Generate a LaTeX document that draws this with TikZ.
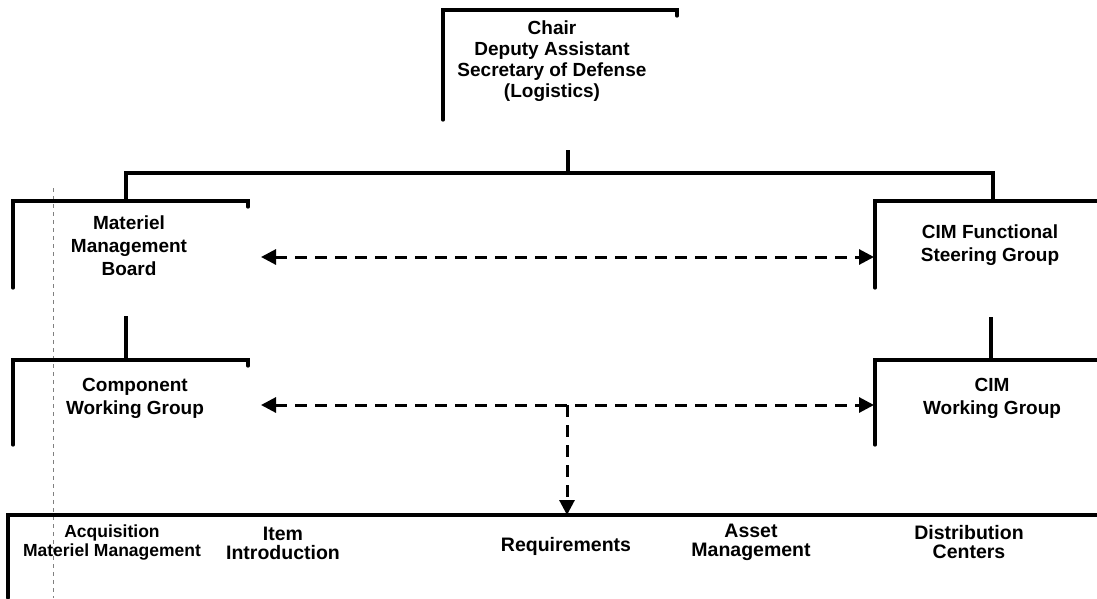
\documentclass[tikz,border=0pt]{standalone}
\usepackage{fontspec}
\setmainfont{Liberation Sans}
\usetikzlibrary{arrows.meta}
\begin{document}
\begin{tikzpicture}[x=1pt,y=-1pt,
  frame/.style={line width=3.2pt, line cap=round, line join=miter},
  conn/.style={line width=3.2pt},
  dashconn/.style={line width=3pt, dash pattern=on 12pt off 8pt},
  tip/.style={-{Triangle[length=15pt,width=15pt]}},
  dtip/.style={{Triangle[length=15pt,width=15pt]}-{Triangle[length=15pt,width=15pt]}},
  lbl/.style={font=\bfseries\fontsize{19}{23}\selectfont, align=center, inner sep=0pt},
  chairlbl/.style={lbl, font=\bfseries\fontsize{19}{21}\selectfont},
  botlbl/.style={lbl, font=\bfseries\fontsize{19.5}{19}\selectfont},
  acqlbl/.style={lbl, font=\bfseries\fontsize{17.5}{19}\selectfont},
  faint/.style={line width=0.6pt, gray, dash pattern=on 4pt off 4pt}]
\useasboundingbox (0,0) rectangle (1097,598);
% faint vertical scan line
\draw[faint] (53,188) -- (53,598);
% box frames
\draw[frame] (443,120) -- (443,10) -- (677,10) -- (677,16);
\draw[frame] (13,288) -- (13,201) -- (248,201) -- (248,207);
\draw[frame] (875,288) -- (875,201) -- (1097,201);
\draw[frame] (13,445) -- (13,360) -- (248,360) -- (248,366);
\draw[frame] (875,445) -- (875,360) -- (1097,360);
\draw[frame] (8,598) -- (8,515) -- (1097,515);
% labels
\node[chairlbl] (chair) at (552,61) {Chair\\Deputy Assistant\\Secretary of Defense\\(Logistics)};
\node[lbl] (mmb) at (129,246) {Materiel\\Management\\Board};
\node[lbl] (cimfsg) at (990,245) {CIM Functional\\Steering Group};
\node[lbl] (cwg) at (135,398) {Component\\Working Group};
\node[lbl] (cimwg) at (992,398) {CIM\\Working Group};
\node[acqlbl] (acq) at (112,543) {Acquisition\\Materiel Management};
\node[botlbl] (item) at (283,543) {Item\\Introduction};
\node[botlbl] (req) at (566,546) {Requirements};
\node[botlbl] (asset) at (751,542) {Asset\\Management};
\node[botlbl] (dist) at (969,542) {Distribution\\Centers};
% connection coordinates
\coordinate (chairB) at (568,150);
\coordinate (bus) at (568,173);
\coordinate (busL) at (126,173);
\coordinate (busR) at (993,173);
\coordinate (mmbT) at (126,201);
\coordinate (cimfsgT) at (993,201);
\coordinate (mmbB) at (126,316);
\coordinate (cwgT) at (126,360);
\coordinate (cimfsgB) at (991,317);
\coordinate (cimwgT) at (991,360);
\coordinate (mmbR) at (261,257);
\coordinate (cimfsgL) at (874,257);
\coordinate (cwgR) at (261,405);
\coordinate (cimwgL) at (874,405);
\coordinate (mid) at (567,405);
\coordinate (botT) at (567,515);
% solid connectors
\draw[conn] (chairB) -- (bus);
\draw[conn] (mmbT) -- (busL) -- (busR) -- (cimfsgT);
\draw[conn] (mmbB) -- (cwgT);
\draw[conn] (cimfsgB) -- (cimwgT);
% dashed connectors
\draw[dashconn, dtip] (mmbR) -- (cimfsgL);
\draw[dashconn, dtip] (cwgR) -- (cimwgL);
\draw[dashconn, tip] (mid) -- (botT);
\end{tikzpicture}
\end{document}
